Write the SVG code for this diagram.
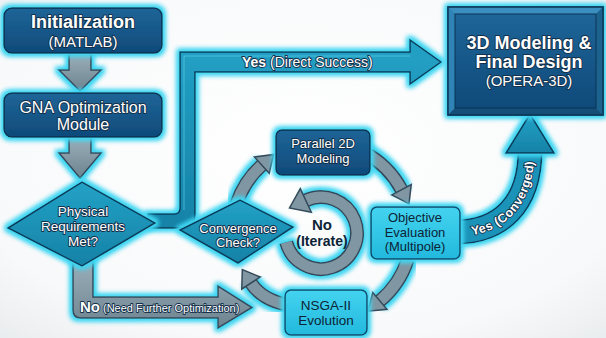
<svg xmlns="http://www.w3.org/2000/svg" width="606" height="338" viewBox="0 0 606 338">
  <defs>
    <radialGradient id="bg" cx="50%" cy="45%" r="75%">
      <stop offset="0" stop-color="#ffffff"/>
      <stop offset="0.75" stop-color="#f8f9fa"/>
      <stop offset="1" stop-color="#e9ecee"/>
    </radialGradient>
    <linearGradient id="navy" x1="0" y1="0" x2="0" y2="1">
      <stop offset="0" stop-color="#1e6598"/>
      <stop offset="1" stop-color="#0f4a7a"/>
    </linearGradient>
    <linearGradient id="teal" x1="0" y1="0" x2="0" y2="1">
      <stop offset="0" stop-color="#22a2c6"/>
      <stop offset="1" stop-color="#1682a6"/>
    </linearGradient>
    <linearGradient id="cyan" x1="0" y1="0" x2="0" y2="1">
      <stop offset="0" stop-color="#44d3f0"/>
      <stop offset="1" stop-color="#22b9dd"/>
    </linearGradient>
    <linearGradient id="steel" x1="0" y1="0" x2="0" y2="1">
      <stop offset="0" stop-color="#9cb1bc"/>
      <stop offset="1" stop-color="#6d838f"/>
    </linearGradient>
    <filter id="glow" x="-30%" y="-30%" width="160%" height="160%">
      <feMorphology in="SourceAlpha" operator="dilate" radius="1.5" result="d"/>
      <feGaussianBlur in="d" stdDeviation="2.4" result="b"/>
      <feFlood flood-color="#40d6f2"/>
      <feComposite in2="b" operator="in" result="g"/>
      <feMerge>
        <feMergeNode in="g"/>
        <feMergeNode in="g"/>
        <feMergeNode in="SourceGraphic"/>
      </feMerge>
    </filter>
    <style>
      text { font-family: "Liberation Sans", Arial, sans-serif; text-anchor: middle; }
      .wt { fill: #ffffff; stroke: #14304a; stroke-width: 1.8; paint-order: stroke; stroke-linejoin: round; }
      .dk { fill: #0c2436; }
      .b { font-weight: bold; }
      .navy { fill: url(#navy); stroke: #0a3050; stroke-width: 1.5; filter: url(#glow); }
      .lite { fill: url(#cyan); stroke: #0e4a6c; stroke-width: 1.5; filter: url(#glow); }
      .dia { fill: url(#teal); stroke: #0b3c5c; stroke-width: 1.5; filter: url(#glow); }
      .tband { fill: url(#teal); stroke: #0b3a5c; stroke-width: 1.5; filter: url(#glow); }
      .sband { fill: url(#steel); stroke: #34495a; stroke-width: 1.5; filter: url(#glow); }
      .ring-o { fill: none; stroke: #34495a; stroke-width: 14; filter: url(#glow); }
      .ring-i { fill: none; stroke: #8097a3; stroke-width: 11; }
      .head { fill: #8097a3; stroke: #34495a; stroke-width: 1.5; stroke-linejoin: miter; }
    </style>
  </defs>

  <rect width="606" height="338" fill="url(#bg)"/>

  <g id="connectors">
    <!-- optimisation loop: four arcs around a common centre -->
    <path class="ring-o" d="M 236.4 204.2 A 90 90 0 0 1 261.8 165.1"/>
    <path class="ring-i" d="M 236.4 204.2 A 90 90 0 0 1 261.8 165.1"/>
    <polygon class="head" points="269.2,173.3 273.7,154.4 254.4,156.9"/>

    <path class="ring-o" d="M 364.3 152.5 A 90 90 0 0 1 401.5 189.7"/>
    <path class="ring-i" d="M 364.3 152.5 A 90 90 0 0 1 401.5 189.7"/>
    <polygon class="head" points="391.8,194.9 409,203.8 411.2,184.5"/>

    <path class="ring-o" d="M 407.6 259.8 A 90 90 0 0 1 379.9 300.9"/>
    <path class="ring-i" d="M 407.6 259.8 A 90 90 0 0 1 379.9 300.9"/>
    <polygon class="head" points="372.8,292.5 367.6,311.2 387,309.3"/>

    <path class="ring-o" d="M 288 305 Q 262 300 251 283"/>
    <path class="ring-i" d="M 288 305 Q 262 300 251 283"/>
    <polygon class="head" points="260.2,277 242.3,269.6 241.8,289"/>

    <!-- iterate ring -->
    <path class="ring-o" d="M 286.2 242.3 A 36 36 0 1 0 305.8 200.4"/>
    <path class="ring-i" d="M 286.2 242.3 A 36 36 0 1 0 305.8 200.4"/>
    <polygon class="head" points="300.3,188.6 289.5,208 311.3,212.2"/>
    <text class="dk b" x="322" y="230" font-size="15">No</text>
    <text class="dk b" x="322" y="246" font-size="14">(Iterate)</text>

    <!-- straight-down steps -->
    <polygon class="sband" points="69,52 91,52 91,70 101,70 80,91 59,70 69,70"/>
    <polygon class="sband" points="69,136 91,136 91,153 101,153 80,178 59,153 69,153"/>

    <!-- not met: back into the loop -->
    <path class="sband" d="M 73 258 L 73 310 Q 73 318 81 318 L 218 318 L 218 328 L 252 307.5 L 218 286 L 218 297 L 93 297 L 93 258 Z"/>
    <text class="wt" x="80" y="312" style="text-anchor:start"><tspan class="b" font-size="15">No</tspan><tspan font-size="11" dx="3">(Need Further Optimization)</tspan></text>

    <!-- direct success -->
    <path class="tband" d="M 148 228 L 181 228 Q 195 228 195 214 L 195 72 L 410 72 L 410 84 L 441 62 L 410 40 L 410 52 L 180 52 L 180 208 Q 180 214 174 214 L 148 214 Z"/>
    <path d="M 184 210 L 184 56 L 410 56" fill="none" stroke="#5cc9e4" stroke-width="1" opacity="0.7"/>
    <text class="wt" x="242" y="67" font-size="14" style="text-anchor:start"><tspan class="b">Yes</tspan> (Direct Success)</text>

    <!-- converged -->
    <path d="M 455 232 C 500 232, 530 205, 530 150" fill="none" stroke="#0b3a5c" stroke-width="25" filter="url(#glow)"/>
    <path id="convPath" d="M 455 232 C 500 232, 530 205, 530 150" fill="none" stroke="#1b93b8" stroke-width="22"/>
    <polygon class="tband" points="506,153 530,114 554,153"/>
    <text class="wt b" font-size="12.5" dy="4.5"><textPath href="#convPath" startOffset="52%">Yes (Converged)</textPath></text>
  </g>

  <g id="init">
    <rect class="navy" x="4" y="8" width="158" height="45" rx="8"/>
    <text class="wt b" x="83" y="28" font-size="18">Initialization</text>
    <text class="wt" x="83" y="47" font-size="15">(MATLAB)</text>
  </g>

  <g id="gna">
    <rect class="navy" x="4" y="93" width="158" height="44" rx="8"/>
    <text class="wt" x="83" y="113" font-size="16">GNA Optimization</text>
    <text class="wt" x="83" y="130" font-size="16">Module</text>
  </g>

  <g id="physical">
    <polygon class="dia" points="8,228 82,182 155,223 82,266"/>
    <text class="wt" x="83" y="216" font-size="13.5">Physical</text>
    <text class="wt" x="83" y="231" font-size="13.5">Requirements</text>
    <text class="wt" x="83" y="246" font-size="13.5">Met?</text>
  </g>

  <g id="final">
    <rect x="448" y="7" width="155" height="108" fill="#2a7cae" stroke="#0b3555" stroke-width="1.5" filter="url(#glow)"/>
    <polygon points="448,7 603,7 596,14 455,14" fill="#3b8fc0"/>
    <polygon points="448,7 455,14 455,108 448,115" fill="#2f83b5"/>
    <polygon points="603,7 603,115 596,108 596,14" fill="#1c628f"/>
    <polygon points="448,115 455,108 596,108 603,115" fill="#154f78"/>
    <rect x="455" y="14" width="141" height="94" fill="url(#navy)" stroke="#0b3555" stroke-width="1"/>
    <rect x="448" y="7" width="155" height="108" fill="none" stroke="#0b3555" stroke-width="1.5"/>
    <text class="wt b" x="529" y="49" font-size="18">3D Modeling &amp;</text>
    <text class="wt b" x="529" y="68" font-size="18">Final Design</text>
    <text class="wt" x="529" y="86" font-size="15">(OPERA-3D)</text>
  </g>

  <g id="parallel">
    <rect class="navy" x="276" y="130" width="94" height="45" rx="6"/>
    <text class="wt" x="323" y="148" font-size="13">Parallel 2D</text>
    <text class="wt" x="323" y="163" font-size="13">Modeling</text>
  </g>

  <g id="objective">
    <rect class="lite" x="371" y="207" width="89" height="52" rx="6"/>
    <text class="dk" x="415" y="222" font-size="13">Objective</text>
    <text class="dk" x="415" y="237" font-size="13">Evaluation</text>
    <text class="dk" x="415" y="251" font-size="13">(Multipole)</text>
  </g>

  <g id="nsga">
    <rect class="lite" x="285" y="290" width="82" height="45" rx="6"/>
    <text class="dk" x="326" y="310" font-size="13.5">NSGA-II</text>
    <text class="dk" x="326" y="325" font-size="13.5">Evolution</text>
  </g>

  <g id="convergence">
    <polygon class="dia" points="180,230 240,200 293,227 238,263"/>
    <text class="wt" x="238" y="233" font-size="13">Convergence</text>
    <text class="wt" x="238" y="247" font-size="13">Check?</text>
  </g>
</svg>
